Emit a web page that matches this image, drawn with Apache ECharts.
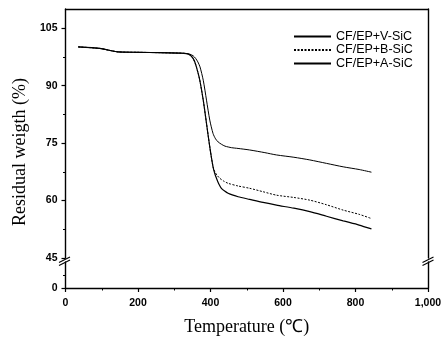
<!DOCTYPE html>
<html><head><meta charset="utf-8">
<script src="https://cdn.jsdelivr.net/npm/echarts@6/dist/echarts.min.js"></script>
<style>html,body{margin:0;padding:0;background:#fff}#c{width:445px;height:337px}</style>
</head><body><div id="c"></div>
<script>
// ---- data ----
const seriesNames = ['CF/EP+V-SiC', 'CF/EP+B-SiC', 'CF/EP+A-SiC'];
const tempV = [35, 95, 145, 200, 260, 310, 330, 343, 352, 359, 365, 371, 380, 389, 398, 407, 414, 421, 430, 440, 458, 476, 508, 550, 582, 630, 674, 720, 766, 810, 844];
const valV  = [100.1, 99.7, 98.8, 98.7, 98.6, 98.5, 98.4, 98.2, 97.8, 97.1, 96.2, 94.9, 91.4, 86.2, 81.0, 77.5, 76.1, 75.3, 74.7, 74.2, 73.8, 73.6, 73.2, 72.5, 71.9, 71.3, 70.6, 69.7, 68.8, 68.1, 67.4];
const tempB = [35, 95, 145, 200, 260, 310, 325, 338, 346, 352, 357, 361, 366, 370.5, 380, 389, 398, 407, 412, 418, 425.7, 436, 448.5, 476, 508, 545, 582, 630, 674, 720, 766, 810, 844];
const valB  = [100.1, 99.7, 98.8, 98.7, 98.6, 98.5, 98.45, 98.3, 97.8, 97.1, 96.1, 94.9, 93.2, 91.4, 86.2, 80.1, 74.0, 68.8, 67.5, 66.6, 65.8, 65.1, 64.5, 63.8, 63.2, 62.3, 61.4, 60.8, 60.1, 58.9, 57.5, 56.4, 55.3];
const tempA = [35, 95, 145, 200, 260, 310, 325, 338, 346, 352, 357, 361, 366, 370.5, 380, 389, 398, 407, 412, 416.5, 423, 430, 440, 448.5, 462, 476, 508, 545, 582, 630, 674, 720, 766, 810, 844];
const valA  = [100.1, 99.7, 98.8, 98.7, 98.6, 98.5, 98.45, 98.3, 97.8, 97.1, 96.1, 94.9, 93.2, 91.4, 86.2, 80.1, 74.0, 68.8, 67.0, 65.8, 64.3, 63.2, 62.4, 61.9, 61.4, 61.0, 60.3, 59.5, 58.8, 58.0, 57.1, 55.9, 54.7, 53.6, 52.6];
const yMajorTicks = [45, 60, 75, 90, 105];
const yMinorTicks = [52.5, 67.5, 82.5, 97.5];
const yLowerTicks = [0];
const yLowerMinor = [2];

const pairs = (t, v) => t.map((x, i) => [x, v[i]]);
const sans = 'Liberation Sans, Arial, sans-serif';
const serif = 'Liberation Serif, Times New Roman, serif';
const axLine = {show: true, lineStyle: {color: '#000', width: 1.4}};
const noTick = {show: false};
const noLabel = {show: false};
const tickFont = {fontFamily: sans, fontSize: 10.5, fontWeight: 'bold', color: '#000'};

const legendTops = [30, 43.5, 57];
const legends = seriesNames.map((n, i) => ({
  orient: 'vertical', left: 293, top: legendTops[i], padding: 0, itemWidth: 37, itemHeight: 10, itemGap: 0,
  itemStyle: {opacity: 0},
  textStyle: {fontFamily: sans, fontSize: 12.5, lineHeight: 10, color: '#000', padding: [0, 0, 0, 0]},
  data: [n]
}));

const chart = echarts.init(document.getElementById('c'), null, {renderer: 'canvas'});
chart.setOption({
  animation: false,
  backgroundColor: '#fff',
  grid: [
    {left: 65.5, right: 17, top: 9, height: 249},
    {left: 65.5, right: 17, top: 262, height: 26}
  ],
  legend: legends,
  xAxis: [
    {gridIndex: 0, type: 'value', min: 0, max: 1000, show: false},
    {gridIndex: 0, type: 'value', min: 0, max: 1000, position: 'top', axisLine: axLine, axisTick: noTick, axisLabel: noLabel, splitLine: {show: false}},
    {gridIndex: 1, type: 'value', min: 0, max: 1000, interval: 200, position: 'bottom',
     axisLine: axLine,
     axisTick: {show: true, length: 4, lineStyle: {color: '#000', width: 1.2}},
     minorTick: {show: true, splitNumber: 2, length: 2.5, lineStyle: {color: '#000', width: 1}},
     axisLabel: Object.assign({margin: 10}, tickFont),
     splitLine: {show: false}, minorSplitLine: {show: false},
     name: 'Temperature (\u2103)', nameLocation: 'middle', nameGap: 30,
     nameTextStyle: {fontFamily: serif, fontSize: 18, color: '#000'}}
  ],
  yAxis: [
    {gridIndex: 0, type: 'value', min: 45, max: 110, position: 'left', axisLine: axLine,
     axisTick: {show: true, length: 4, customValues: yMajorTicks, lineStyle: {color: '#000', width: 1.2}},
     axisLabel: Object.assign({customValues: yMajorTicks, margin: 8}, tickFont),
     splitLine: {show: false}},
    {gridIndex: 0, type: 'value', min: 45, max: 110, position: 'left', axisLine: {show: false},
     axisTick: {show: true, length: 2.5, customValues: yMinorTicks, lineStyle: {color: '#000', width: 1}},
     axisLabel: noLabel, splitLine: {show: false}},
    {gridIndex: 0, type: 'value', min: 45, max: 110, position: 'right', axisLine: axLine, axisTick: noTick, axisLabel: noLabel, splitLine: {show: false}},
    {gridIndex: 1, type: 'value', min: 0, max: 4, position: 'left', axisLine: axLine,
     axisTick: {show: true, length: 4, customValues: yLowerTicks, lineStyle: {color: '#000', width: 1.2}},
     axisLabel: Object.assign({customValues: yLowerTicks, margin: 8}, tickFont),
     splitLine: {show: false}},
    {gridIndex: 1, type: 'value', min: 0, max: 4, position: 'left', axisLine: {show: false},
     axisTick: {show: true, length: 2.5, customValues: yLowerMinor, lineStyle: {color: '#000', width: 1}},
     axisLabel: noLabel, splitLine: {show: false}},
    {gridIndex: 1, type: 'value', min: 0, max: 4, position: 'right', axisLine: axLine, axisTick: noTick, axisLabel: noLabel, splitLine: {show: false}}
  ],
  series: [
    {name: seriesNames[0], type: 'line', xAxisIndex: 0, yAxisIndex: 0, data: pairs(tempV, valV),
     symbol: 'none', smooth: 0.25, lineStyle: {color: '#000', width: 1}, itemStyle: {color: '#000'}},
    {name: seriesNames[1], type: 'line', xAxisIndex: 0, yAxisIndex: 0, data: pairs(tempB, valB),
     symbol: 'none', smooth: 0.25, lineStyle: {color: '#000', width: 1, type: [2, 1.5]}, itemStyle: {color: '#000'}},
    {name: seriesNames[2], type: 'line', xAxisIndex: 0, yAxisIndex: 0, data: pairs(tempA, valA),
     symbol: 'none', smooth: 0.25, lineStyle: {color: '#000', width: 1.2}, itemStyle: {color: '#000'}}
  ],
  graphic: [
    {type: 'text', x: 20, y: 152, rotation: Math.PI / 2,
     style: {text: 'Residual weigth (%)', font: '18px ' + serif, fill: '#000', textAlign: 'center', textVerticalAlign: 'middle'}},
    {type: 'line', shape: {x1: 59, y1: 262.5, x2: 70, y2: 257}, style: {stroke: '#000', lineWidth: 1.2}},
    {type: 'line', shape: {x1: 59, y1: 265.5, x2: 70, y2: 260}, style: {stroke: '#000', lineWidth: 1.2}},
    {type: 'line', shape: {x1: 422.5, y1: 262.5, x2: 433.5, y2: 257}, style: {stroke: '#000', lineWidth: 1.2}},
    {type: 'line', shape: {x1: 422.5, y1: 265.5, x2: 433.5, y2: 260}, style: {stroke: '#000', lineWidth: 1.2}}
  ]
});
</script></body></html>
